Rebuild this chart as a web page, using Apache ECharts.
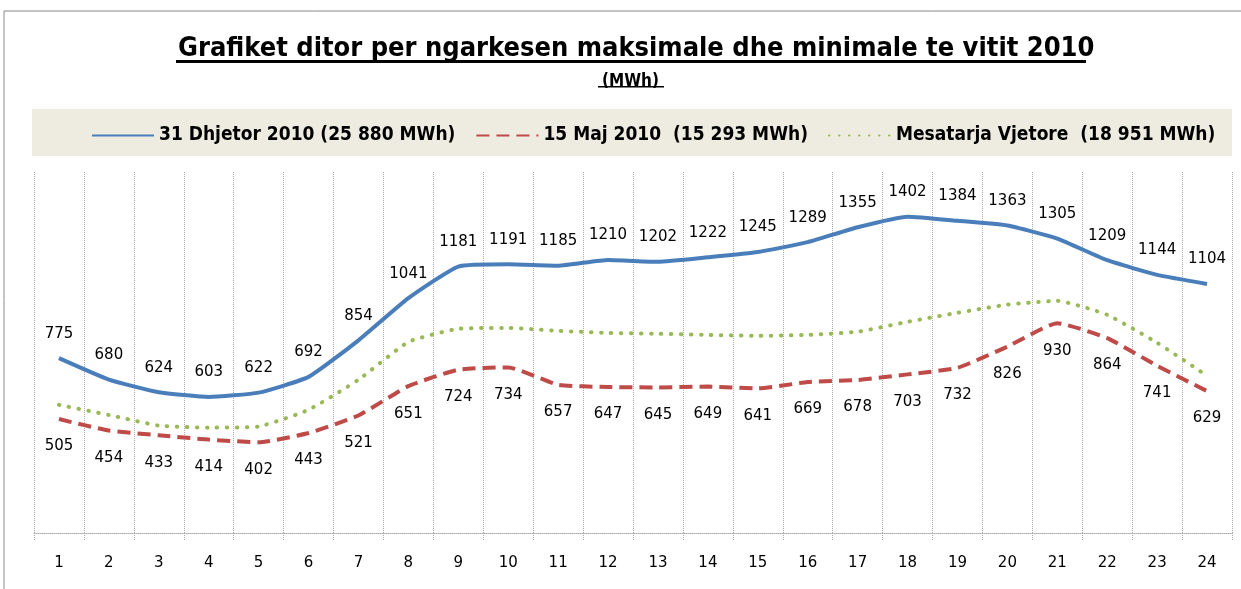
<!DOCTYPE html>
<html><head><meta charset="utf-8">
<script src="https://cdn.jsdelivr.net/npm/echarts@6/dist/echarts.min.js"></script>
<style>html,body{margin:0;padding:0;background:#fff}#c{width:1241px;height:589px}</style>
</head><body><div id="c"></div>
<script>
const categories = ['1','2','3','4','5','6','7','8','9','10','11','12','13','14','15','16','17','18','19','20','21','22','23','24'];
const dhjetor = [775,680,624,603,622,692,854,1041,1181,1191,1185,1210,1202,1222,1245,1289,1355,1402,1384,1363,1305,1209,1144,1104];
const maj = [505,454,433,414,402,443,521,651,724,734,657,647,645,649,641,669,678,703,732,826,930,864,741,629];
const mesatarja = [568,523,476,467,472,546,679,847,905,909,896,887,883,878,874,878,892,936,976,1012,1029,967,843,697];
const seriesNames = ['31 Dhjetor 2010 (25 880 MWh)','15 Maj 2010  (15 293 MWh)','Mesatarja Vjetore  (18 951 MWh)'];

const chart = echarts.init(document.getElementById('c'));
const condensed = "'Liberation Sans Narrow','DejaVu Sans Condensed','Roboto Condensed',sans-serif";
const lblFont = {fontFamily:'DejaVu Sans',fontSize:15,color:'#000'};
chart.setOption({
  animation:false,
  backgroundColor:'#fff',
  graphic:[
    {type:'rect',shape:{x:4,y:11,width:1300,height:700},style:{fill:'none',stroke:'#888',lineWidth:1},z:-10},
    {type:'rect',shape:{x:32,y:109,width:1200,height:47},style:{fill:'#eeece1'},z:-5},
    {type:'rect',shape:{x:176,y:60,width:910,height:3},style:{fill:'#000'}},
    {type:'rect',shape:{x:598,y:86,width:66,height:1.5},style:{fill:'#000'}}
  ],
  title:[
    {text:'Grafiket ditor per ngarkesen maksimale dhe minimale te vitit 2010',left:173,top:30,
     textStyle:{fontFamily:condensed,fontWeight:'bold',fontSize:27,color:'#000'}},
    {text:'(MWh)',left:597,top:68,
     textStyle:{fontFamily:condensed,fontWeight:'bold',fontSize:17,color:'#000'}}
  ],
  legend:{
    data:seriesNames,
    top:121,left:86,itemWidth:62,itemHeight:14,itemGap:20,
    itemStyle:{opacity:0},
    textStyle:{fontFamily:condensed,fontWeight:'bold',fontSize:19,color:'#000'}
  },
  grid:{left:34,right:9,top:172,bottom:56,containLabel:false},
  xAxis:{
    type:'category',data:categories,boundaryGap:true,
    axisLine:{lineStyle:{color:'#aaa',type:'dotted',width:1}},
    axisTick:{show:true,length:7,lineStyle:{color:'#aaa',type:'dotted'}},
    axisLabel:{fontFamily:'DejaVu Sans',fontSize:15,color:'#000',margin:23},
    splitLine:{show:true,lineStyle:{color:'#aaa',type:'dotted',width:1}}
  },
  yAxis:{type:'value',min:0,max:1600,show:false,splitLine:{show:false}},
  series:[
    {name:seriesNames[0],type:'line',data:dhjetor,smooth:0.15,symbol:'circle',symbolSize:0,showSymbol:true,
     lineStyle:{color:'#4a7ebb',width:4},itemStyle:{color:'#4a7ebb'},
     label:Object.assign({show:true,position:'top',distance:17},lblFont)},
    {name:seriesNames[1],type:'line',data:maj,smooth:0.15,symbol:'circle',symbolSize:0,showSymbol:true,
     lineStyle:{color:'#be4b48',width:4,type:[13,7]},itemStyle:{color:'#be4b48'},
     label:Object.assign({show:true,position:'bottom',distance:20},lblFont)},
    {name:seriesNames[2],type:'line',data:mesatarja,smooth:0.15,symbol:'none',
     lineStyle:{color:'#98b954',width:4,type:[0.5,9.5],cap:'round'},itemStyle:{color:'#98b954'}}
  ]
});
</script></body></html>
